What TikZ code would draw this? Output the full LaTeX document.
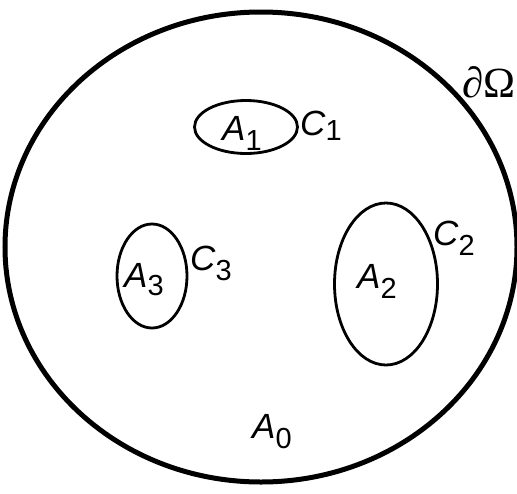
\documentclass[tikz,border=0pt]{standalone}
\usepackage{fontspec}
\setmainfont{Liberation Sans}
\newfontfamily\greekserif{Liberation Serif}
\usetikzlibrary{shapes.geometric}

% region name with a lowered index
\newcommand{\reglabel}[3][0.3em]{\textit{#2}\raisebox{-#1}{\fontsize{29}{29}\selectfont #3}}

\begin{document}
\begin{tikzpicture}[
            x=1pt, y=-1pt,
            outerbnd/.style={ellipse, draw, line width=5pt, inner sep=0pt},
            region/.style={ellipse, draw, line width=2.8pt, inner sep=0pt},
            tag/.style={inner sep=0pt, anchor=base west,
                        font=\fontsize{35}{40}\selectfont}
          ]
          \useasboundingbox (0,0) rectangle (517,493);
          % Outer boundary
          \node[outerbnd, minimum width=512pt, minimum height=470pt] (dom) at (261,247) {};
          \node[tag, font=\greekserif\fontsize{43}{46}\selectfont] (bnd) at (462,97) {∂Ω};
          % Inclusions
          \node[region, minimum width=103pt, minimum height=53pt] (a1) at (246,127) {};
          \node[region, minimum width=103pt, minimum height=162pt] (a2) at (386,284) {};
          \node[region, minimum width=70pt, minimum height=104pt] (a3) at (152,276) {};
          % Region names
          \node[tag] (a1txt) at (222,140) {\reglabel{A}{1}};
          \node[tag] (a2txt) at (357,288) {\reglabel{A}{2}};
          \node[tag] (a3txt) at (124,287) {\reglabel[0.24em]{A}{3}};
          \node[tag] (a0txt) at (252,438) {\reglabel{A}{0}};
          % Curve names
          \node[tag] (c1) at (300,135) {\reglabel[0.15em]{C}{1}};
          \node[tag] (c2) at (433,245) {\reglabel{C}{2}};
          \node[tag] (c3) at (190,270) {\reglabel{C}{3}};
        \end{tikzpicture}
\end{document}
